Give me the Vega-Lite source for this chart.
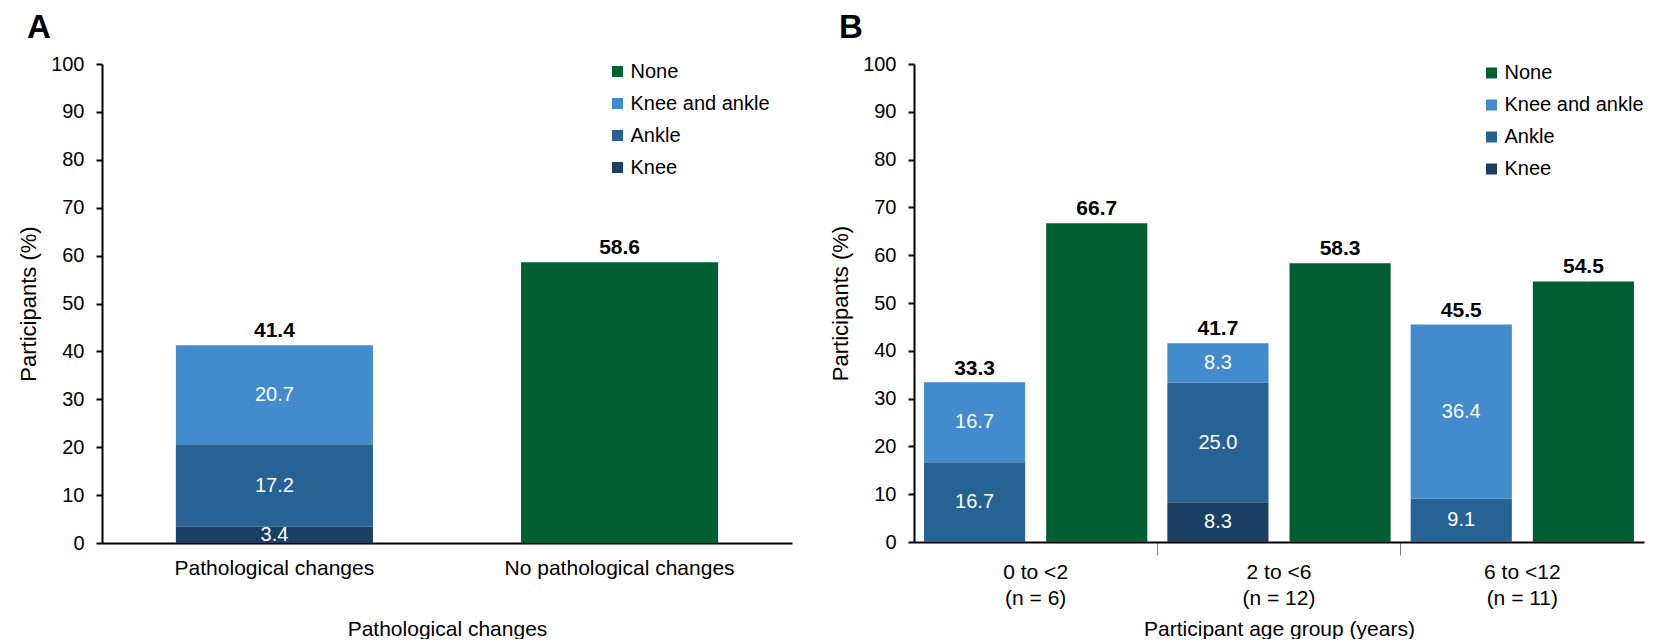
{
  "$schema": "https://vega.github.io/schema/vega-lite/v6.json",
  "background": "white",
  "autosize": {"type": "pad"},
  "padding": {"left": 17, "top": 12, "right": 0, "bottom": 0},
  "spacing": 37,
  "resolve": {"scale": {"color": "independent"}, "legend": {"color": "independent"}},
  "config": {
    "font": "Liberation Sans",
    "view": {"stroke": null},
    "axis": {"labelFont": "Liberation Sans", "titleFont": "Liberation Sans", "labelColor": "#000", "titleColor": "#000", "titleFontWeight": "normal", "domainColor": "#000", "tickColor": "#000", "grid": false, "labelLimit": 0},
    "legend": {"labelFont": "Liberation Sans", "labelFontSize": 20, "labelColor": "#000", "symbolType": "square", "symbolSize": 121, "symbolStrokeWidth": 0, "rowPadding": 12, "labelOffset": 3, "padding": 0, "labelLimit": 0},
    "title": {"font": "Liberation Sans", "fontSize": 33, "fontWeight": "bold", "color": "#000", "anchor": "start", "frame": "group", "baseline": "alphabetic"}
  },
  "hconcat": [
    {
      "title": {"text": "A", "dx": -75, "offset": 9},
      "width": 690,
      "height": 479,
      "data": {"values": [
        {"bar": "Pathological changes", "site": "Knee", "rank": 1, "pct": 3.4},
        {"bar": "Pathological changes", "site": "Ankle", "rank": 2, "pct": 17.2},
        {"bar": "Pathological changes", "site": "Knee and ankle", "rank": 3, "pct": 20.7},
        {"bar": "No pathological changes", "site": "None", "rank": 4, "pct": 58.6}
      ]},
      "layer": [
        {
          "transform": [{"stack": "pct", "groupby": ["bar"], "sort": [{"field": "rank", "order": "ascending"}], "as": ["lo", "hi"]}],
          "mark": {"type": "bar"},
          "encoding": {
            "x": {"field": "bar", "type": "nominal", "sort": ["Pathological changes", "No pathological changes"],
              "scale": {"paddingInner": 0.429, "paddingOuter": 0.214},
              "axis": {"title": "Pathological changes", "labelAngle": 0, "ticks": false, "labelFontSize": 21, "titleFontSize": 21, "labelPadding": 14, "titlePadding": 40, "domainWidth": 2}},
            "y": {"field": "lo", "type": "quantitative", "scale": {"domain": [0, 100], "nice": false},
              "axis": {"title": "Participants (%)", "values": [0, 10, 20, 30, 40, 50, 60, 70, 80, 90, 100], "labelFontSize": 20, "titleFontSize": 22, "tickSize": 6, "tickWidth": 2, "labelPadding": 12, "titlePadding": 10, "domainWidth": 2}},
            "y2": {"field": "hi"},
            "color": {"field": "site", "type": "nominal",
              "scale": {"domain": ["None", "Knee and ankle", "Ankle", "Knee"], "range": ["#005E35", "#428BCD", "#266294", "#1B3F63"]},
              "legend": {"title": null, "orient": "none", "legendX": 505.5, "legendY": -2.5}}
          }
        },
        {
          "transform": [
            {"filter": "datum.site !== 'None'"},
            {"stack": "pct", "groupby": ["bar"], "sort": [{"field": "rank", "order": "ascending"}], "as": ["lo", "hi"]},
            {"calculate": "(datum.lo + datum.hi) / 2", "as": "mid"}
          ],
          "mark": {"type": "text", "color": "white", "fontSize": 20, "baseline": "middle"},
          "encoding": {
            "x": {"field": "bar", "type": "nominal", "sort": ["Pathological changes", "No pathological changes"]},
            "y": {"field": "mid", "type": "quantitative"},
            "text": {"field": "pct", "type": "quantitative", "format": ".1f"}
          }
        },
        {
          "data": {"values": [
            {"bar": "Pathological changes", "total": 41.4},
            {"bar": "No pathological changes", "total": 58.6}
          ]},
          "mark": {"type": "text", "color": "#000", "fontSize": 21, "fontWeight": "bold", "baseline": "alphabetic", "dy": -8},
          "encoding": {
            "x": {"field": "bar", "type": "nominal", "sort": ["Pathological changes", "No pathological changes"]},
            "y": {"field": "total", "type": "quantitative"},
            "text": {"field": "total", "type": "quantitative", "format": ".1f"}
          }
        }
      ]
    },
    {
      "title": {"text": "B", "dx": -75, "offset": 9},
      "width": 730,
      "height": 478,
      "data": {"values": [
        {"age": "0 to <2|(n = 6)", "kind": "Changes", "site": "Ankle", "rank": 2, "pct": 16.7},
        {"age": "0 to <2|(n = 6)", "kind": "Changes", "site": "Knee and ankle", "rank": 3, "pct": 16.7},
        {"age": "0 to <2|(n = 6)", "kind": "None", "site": "None", "rank": 4, "pct": 66.7},
        {"age": "2 to <6|(n = 12)", "kind": "Changes", "site": "Knee", "rank": 1, "pct": 8.3},
        {"age": "2 to <6|(n = 12)", "kind": "Changes", "site": "Ankle", "rank": 2, "pct": 25.0},
        {"age": "2 to <6|(n = 12)", "kind": "Changes", "site": "Knee and ankle", "rank": 3, "pct": 8.3},
        {"age": "2 to <6|(n = 12)", "kind": "None", "site": "None", "rank": 4, "pct": 58.3},
        {"age": "6 to <12|(n = 11)", "kind": "Changes", "site": "Ankle", "rank": 2, "pct": 9.1},
        {"age": "6 to <12|(n = 11)", "kind": "Changes", "site": "Knee and ankle", "rank": 3, "pct": 36.4},
        {"age": "6 to <12|(n = 11)", "kind": "None", "site": "None", "rank": 4, "pct": 54.5}
      ]},
      "layer": [
        {
          "transform": [{"stack": "pct", "groupby": ["age", "kind"], "sort": [{"field": "rank", "order": "ascending"}], "as": ["lo", "hi"]}],
          "mark": {"type": "bar"},
          "encoding": {
            "x": {"field": "age", "type": "nominal", "sort": ["0 to <2|(n = 6)", "2 to <6|(n = 12)", "6 to <12|(n = 11)"],
              "scale": {"paddingInner": 0, "paddingOuter": 0},
              "axis": {"title": "Participant age group (years)", "labelAngle": 0, "labelFontSize": 21, "titleFontSize": 21,
                "labelExpr": "split(datum.value, '|')", "labelLineHeight": 26, "bandPosition": 0, "labelDx": 121.67,
                "tickSize": 13, "tickWidth": 1,
                "tickColor": {"condition": {"test": "datum.value === '0 to <2|(n = 6)'", "value": "transparent"}, "value": "#808080"},
                "labelPadding": 6, "titlePadding": 10, "domainWidth": 2}},
            "xOffset": {"field": "kind", "type": "nominal", "sort": ["Changes", "None"], "scale": {"paddingInner": 0.172, "paddingOuter": 0.082}},
            "y": {"field": "lo", "type": "quantitative", "scale": {"domain": [0, 100], "nice": false},
              "axis": {"title": "Participants (%)", "values": [0, 10, 20, 30, 40, 50, 60, 70, 80, 90, 100], "labelFontSize": 20, "titleFontSize": 22, "tickSize": 6, "tickWidth": 2, "labelPadding": 12, "titlePadding": 10, "domainWidth": 2}},
            "y2": {"field": "hi"},
            "color": {"field": "site", "type": "nominal",
              "scale": {"domain": ["None", "Knee and ankle", "Ankle", "Knee"], "range": ["#005E35", "#428BCD", "#266294", "#1B3F63"]},
              "legend": {"title": null, "orient": "none", "legendX": 567.5, "legendY": -1}}
          }
        },
        {
          "transform": [
            {"filter": "datum.site !== 'None'"},
            {"stack": "pct", "groupby": ["age", "kind"], "sort": [{"field": "rank", "order": "ascending"}], "as": ["lo", "hi"]},
            {"calculate": "(datum.lo + datum.hi) / 2", "as": "mid"}
          ],
          "mark": {"type": "text", "color": "white", "fontSize": 20, "baseline": "middle"},
          "encoding": {
            "x": {"field": "age", "type": "nominal", "sort": ["0 to <2|(n = 6)", "2 to <6|(n = 12)", "6 to <12|(n = 11)"]},
            "xOffset": {"field": "kind", "type": "nominal", "sort": ["Changes", "None"]},
            "y": {"field": "mid", "type": "quantitative"},
            "text": {"field": "pct", "type": "quantitative", "format": ".1f"}
          }
        },
        {
          "data": {"values": [
            {"age": "0 to <2|(n = 6)", "kind": "Changes", "total": 33.3},
            {"age": "0 to <2|(n = 6)", "kind": "None", "total": 66.7},
            {"age": "2 to <6|(n = 12)", "kind": "Changes", "total": 41.7},
            {"age": "2 to <6|(n = 12)", "kind": "None", "total": 58.3},
            {"age": "6 to <12|(n = 11)", "kind": "Changes", "total": 45.5},
            {"age": "6 to <12|(n = 11)", "kind": "None", "total": 54.5}
          ]},
          "mark": {"type": "text", "color": "#000", "fontSize": 21, "fontWeight": "bold", "baseline": "alphabetic", "dy": -8},
          "encoding": {
            "x": {"field": "age", "type": "nominal", "sort": ["0 to <2|(n = 6)", "2 to <6|(n = 12)", "6 to <12|(n = 11)"]},
            "xOffset": {"field": "kind", "type": "nominal", "sort": ["Changes", "None"]},
            "y": {"field": "total", "type": "quantitative"},
            "text": {"field": "total", "type": "quantitative", "format": ".1f"}
          }
        }
      ]
    }
  ]
}
